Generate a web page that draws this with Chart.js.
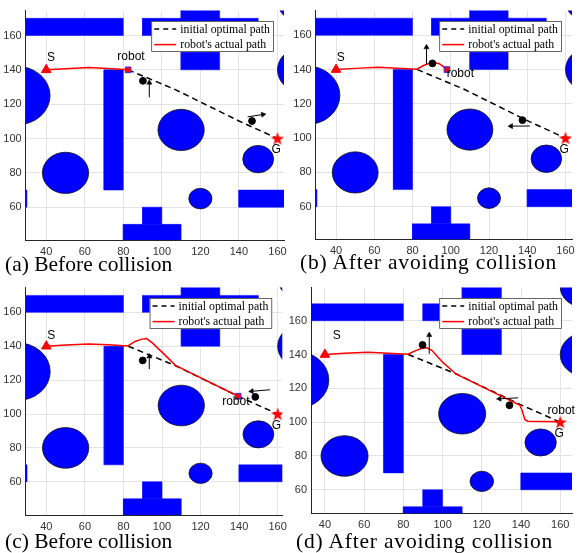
<!DOCTYPE html>
<html>
<head>
<meta charset="utf-8">
<script src="https://cdn.jsdelivr.net/npm/chart.js@4.4.0/dist/chart.umd.min.js"></script>
<style>
  body { margin: 0; background: #fff; }
  #wrap { position: relative; width: 580px; height: 553px; overflow: hidden; background: #fff; }
  canvas { position: absolute; }
  .cap { position: absolute; font-family: "Liberation Serif", "Times New Roman", serif; font-size: 21.5px; line-height: 1; color: #000; white-space: nowrap; }
  .wide { letter-spacing: 0.8px; }
</style>
</head>
<body>
<div id="wrap">
  <canvas id="chartA"></canvas>
  <canvas id="chartB"></canvas>
  <canvas id="chartC"></canvas>
  <canvas id="chartD"></canvas>
  <div class="cap" style="left:5px;top:254px">(a) Before collision</div>
  <div class="cap wide" style="left:300px;top:252px">(b) After avoiding collision</div>
  <div class="cap" style="left:5px;top:531px">(c) Before collision</div>
  <div class="cap wide" style="left:296px;top:531px">(d) After avoiding collision</div>
</div>
<script>
// tick labels
var xTicks = [40, 60, 80, 100, 120, 140, 160];
var yTicks = [60, 80, 100, 120, 140, 160];

// static obstacles: rectangles [x1, x2, y1, y2] and circles [cx, cy, r]
var rectObs = [[10, 80, 160, 170], [90, 150, 160, 170], [110, 130, 140, 185],
               [70, 80, 70, 140], [140, 175, 60, 70], [80, 110, 35, 50],
               [90, 100, 50, 60], [15, 30, 60, 70]];
var circObs = [[25, 125, 17], [50, 80, 12], [110, 105, 12], [150, 88, 8],
               [120, 65, 6], [173, 140, 13], [172, 180, 12]];

var startXY = [40, 140];
var goalXY = [160, 100];

// initial optimal path
var initX = [82.5, 107, 139.5, 160];
var initY = [140, 128.5, 110.5, 100];

// robot's actual path for each panel
var pathAX = [40, 50, 62, 72, 82.5];
var pathAY = [140, 140.7, 141.3, 140.8, 140];
var pathBX = [40, 50, 62, 72, 82.3, 86, 90.5, 94, 97.5];
var pathBY = [140, 140.7, 141.3, 140.8, 140.2, 142.5, 144.2, 143.4, 140.5];
var pathCX = [40, 50, 62, 72, 82.3, 86, 89.5, 92, 95, 100, 107, 139.5];
var pathCY = [140, 140.7, 141.3, 140.8, 140.2, 142.8, 144.2, 144.5, 142, 136.5, 128.7, 110.5];
var pathDX = [40, 50, 62, 72, 82.3, 86, 89.5, 92, 94.5, 100, 106.8, 139.5, 140.5, 142, 143.5, 160];
var pathDY = [140, 140.7, 141.3, 140.8, 140.2, 142.2, 143.7, 144, 142.5, 135.5, 128.5, 110, 107, 101.5, 100.6, 100.3];

// robot position
var robotA = [82.5, 140];
var robotB = [98, 140];
var robotC = [139.5, 110.5];

// moving obstacles
var dotsAX = [90.2, 146.8], dotsAY = [133.6, 110.2];
var dotsBX = [90.4, 137.5], dotsBY = [143.6, 110.5];
var dotsCX = [90, 148.4],   dotsCY = [131.6, 110.1];
var dotsDX = [89.8, 134.1], dotsDY = [145.7, 110];

// their velocity arrows [x0, y0, x1, y1]
var arrowsA = [[93.5, 124, 93.5, 132.5], [144.5, 112.6, 152.5, 114]];
var arrowsB = [[87.3, 143.2, 87.3, 153], [141.4, 107.1, 131.5, 107]];
var arrowsC = [[93.4, 126.5, 93.4, 134], [156, 114.3, 146.5, 113.4]];
var arrowsD = [[93.2, 140.5, 93.2, 151.5], [138.5, 114.4, 129, 113.8]];

var pts = function(xs, ys) { return xs.map(function(x, i) { return {x: x, y: ys[i]}; }); };

function starImg(size, color) {
  var c = document.createElement('canvas');
  c.width = c.height = size;
  var g = c.getContext('2d');
  g.beginPath();
  for (var i = 0; i < 10; i++) {
    var r = i % 2 ? size * 0.2 : size * 0.5;
    var a = -Math.PI / 2 + i * Math.PI / 5;
    g.lineTo(size / 2 + r * Math.cos(a), size / 2 + r * Math.sin(a) + size * 0.04);
  }
  g.closePath();
  g.fillStyle = color;
  g.fill();
  return c;
}
var star = starImg(14, '#ff0000');

// circles, labels and legend drawn with the chart scales
var mapPlugin = {
  id: 'mapPlugin',
  beforeDatasetsDraw: function(chart) {
    var ctx = chart.ctx, a = chart.chartArea, xs = chart.scales.x, ys = chart.scales.y;
    ctx.save();
    ctx.beginPath();
    ctx.rect(a.left, a.top, a.right - a.left, a.bottom - a.top);
    ctx.clip();
    circObs.forEach(function(c) {
      var cx = xs.getPixelForValue(c[0]), cy = ys.getPixelForValue(c[1]);
      var rx = Math.abs(xs.getPixelForValue(c[0] + c[2]) - cx);
      var ry = Math.abs(ys.getPixelForValue(c[1] + c[2]) - cy);
      ctx.beginPath();
      ctx.ellipse(cx, cy, rx, ry, 0, 0, Math.PI * 2);
      ctx.fillStyle = '#0000ff';
      ctx.fill();
      ctx.lineWidth = 0.8;
      ctx.strokeStyle = '#101010';
      ctx.stroke();
    });
    ctx.restore();
  },
  afterDatasetsDraw: function(chart) {
    var ctx = chart.ctx, a = chart.chartArea, xs = chart.scales.x, ys = chart.scales.y;
    var o = chart.options.plugins.mapPlugin;
    ctx.save();
    ctx.fillStyle = '#000';
    ctx.font = '12px "Liberation Sans", Arial, sans-serif';
    ctx.textAlign = 'center';
    ctx.textBaseline = 'middle';
    o.labels.forEach(function(l) {
      ctx.fillText(l[0], xs.getPixelForValue(l[1]), ys.getPixelForValue(l[2]));
    });
    // legend box
    ctx.font = '11.8px "Liberation Serif", "Times New Roman", serif';
    var t1 = 'initial optimal path', t2 = "robot's actual path";
    var w = 29 + Math.max(ctx.measureText(t1).width, ctx.measureText(t2).width) + 4;
    var h = 31;
    var lx = a.right - o.legendRight - w, ly = a.top + o.legendTop;
    ctx.fillStyle = '#fff';
    ctx.fillRect(lx, ly, w, h);
    ctx.strokeStyle = '#262626';
    ctx.lineWidth = 0.7;
    ctx.strokeRect(lx + 0.5, ly + 0.5, w - 1, h - 1);
    ctx.lineWidth = 1.5;
    ctx.strokeStyle = '#000';
    ctx.setLineDash([5, 4]);
    ctx.beginPath(); ctx.moveTo(lx + 3, ly + 8); ctx.lineTo(lx + 25, ly + 8); ctx.stroke();
    ctx.setLineDash([]);
    ctx.strokeStyle = '#ff0000';
    ctx.beginPath(); ctx.moveTo(lx + 3, ly + 23.5); ctx.lineTo(lx + 25, ly + 23.5); ctx.stroke();
    ctx.fillStyle = '#000';
    ctx.textAlign = 'left';
    ctx.fillText(t1, lx + 29, ly + 8.5);
    ctx.fillText(t2, lx + 29, ly + 24);
    ctx.restore();
  }
};

function arrowRot(ctx) {
  var d = ctx.dataset.data, xs = ctx.chart.scales.x, ys = ctx.chart.scales.y;
  var dx = xs.getPixelForValue(d[1].x) - xs.getPixelForValue(d[0].x);
  var dy = ys.getPixelForValue(d[1].y) - ys.getPixelForValue(d[0].y);
  return Math.atan2(dx, -dy) * 180 / Math.PI;
}

function buildDatasets(px, py, robot, dx, dy, arrows) {
  var ds = [];
  ds.push({ data: [{x: startXY[0], y: startXY[1]}], showLine: false, pointStyle: 'triangle',
            pointRadius: 5.5, backgroundColor: '#ff0000', borderColor: '#ff0000', order: 0 });
  ds.push({ data: [{x: goalXY[0], y: goalXY[1]}], showLine: false, pointStyle: star,
            pointRadius: 7, order: 0 });
  if (robot) {
    ds.push({ data: [{x: robot[0], y: robot[1]}], showLine: false, pointStyle: 'rect',
              pointRadius: 4, backgroundColor: '#ff0000', borderColor: '#3030ff', borderWidth: 1, order: 0 });
  }
  ds.push({ data: pts(dx, dy), showLine: false, pointStyle: 'circle', pointRadius: 3.4,
            backgroundColor: '#000', borderColor: '#000', order: 0 });
  arrows.forEach(function(ar) {
    ds.push({ data: [{x: ar[0], y: ar[1]}, {x: ar[2], y: ar[3]}], showLine: true,
              borderColor: '#000', borderWidth: 1, pointStyle: 'triangle',
              pointRadius: [0, 3], pointBackgroundColor: '#000', pointBorderColor: '#000',
              pointBorderWidth: 0.5, pointRotation: arrowRot, order: 1 });
  });
  ds.push({ data: pts(px, py), showLine: true, borderColor: '#ff0000', borderWidth: 1.5,
            pointRadius: 0, tension: 0, order: 4 });
  ds.push({ data: pts(initX, initY), showLine: true, borderColor: '#000', borderWidth: 1.5,
            borderDash: [6, 4], pointRadius: 0, tension: 0, order: 5 });
  rectObs.forEach(function(r) {
    ds.push({ data: [{x: r[0], y: r[2]}, {x: r[1], y: r[2]}, {x: r[1], y: r[3]}, {x: r[0], y: r[3]}, {x: r[0], y: r[2]}],
              showLine: true, fill: 'shape', backgroundColor: '#0000ff', borderColor: '#0000ff',
              borderWidth: 0.5, pointRadius: 0, tension: 0, order: 10 });
  });
  return ds;
}

function makePanel(p) {
  var cv = document.getElementById(p.id);
  cv.width = p.cw; cv.height = p.ch;
  cv.style.left = p.cx + 'px'; cv.style.top = p.cy + 'px';
  var yW = p.area[0] - p.cx, padTop = p.area[1] - p.cy;
  var padRight = p.cx + p.cw - p.area[2], xH = p.cy + p.ch - p.area[3];
  var tickFont = { family: '"Liberation Sans", Arial, sans-serif', size: 11 };
  new Chart(cv.getContext('2d'), {
    type: 'line',
    data: { datasets: p.datasets },
    options: {
      responsive: false,
      animation: false,
      events: [],
      layout: { padding: { top: padTop, right: padRight, left: 0, bottom: 0 } },
      plugins: {
        legend: { display: false },
        tooltip: { enabled: false },
        mapPlugin: { labels: p.labels, legendRight: 10, legendTop: 10.5 }
      },
      scales: {
        x: {
          type: 'linear', min: p.xlim[0], max: p.xlim[1],
          afterFit: function(s) { s.height = xH; },
          afterBuildTicks: function(s) { s.ticks = xTicks.map(function(v) { return {value: v}; }); },
          ticks: { font: tickFont, color: '#333', padding: 5, maxRotation: 0, autoSkip: false },
          grid: { color: '#e4e4e4', drawTicks: false },
          border: { color: '#262626', width: 1 }
        },
        y: {
          type: 'linear', min: p.ylim[0], max: p.ylim[1],
          afterFit: function(s) { s.width = yW; },
          afterBuildTicks: function(s) { s.ticks = yTicks.map(function(v) { return {value: v}; }); },
          ticks: { font: tickFont, color: '#333', padding: 4, autoSkip: false },
          grid: { color: '#e4e4e4', drawTicks: false },
          border: { color: '#262626', width: 1 }
        }
      }
    },
    plugins: [mapPlugin]
  });
}

makePanel({ id: 'chartA', cx: 0, cy: 0, cw: 292, ch: 262, area: [25.7, 7, 290, 240],
  xlim: [29.35, 163.4], ylim: [40.9, 174.5],
  labels: [['S', 42.5, 147], ['robot', 84, 147.5], ['G', 159.3, 93.4]],
  datasets: buildDatasets(pathAX, pathAY, robotA, dotsAX, dotsAY, arrowsA) });

makePanel({ id: 'chartB', cx: 292, cy: 0, cw: 288, ch: 262, area: [315.7, 6, 580, 239.3],
  xlim: [29.35, 163.4], ylim: [41, 174.4],
  labels: [['S', 42.5, 147], ['robot', 105, 137.7], ['G', 159.3, 93.4]],
  datasets: buildDatasets(pathBX, pathBY, robotB, dotsBX, dotsBY, arrowsB) });

makePanel({ id: 'chartC', cx: 0, cy: 277, cw: 292, ch: 262, area: [25.7, 282, 287.5, 515],
  xlim: [29.3, 162.4], ylim: [40.4, 174.6],
  labels: [['S', 42.5, 146.5], ['robot', 138.3, 107], ['G', 159.3, 93.4]],
  datasets: buildDatasets(pathCX, pathCY, robotC, dotsCX, dotsCY, arrowsC) });

makePanel({ id: 'chartD', cx: 280, cy: 277, cw: 300, ch: 262, area: [311, 280, 573.3, 513.3],
  xlim: [32.9, 166], ylim: [46.1, 179.6],
  labels: [['S', 46, 151], ['robot', 160.5, 107], ['G', 159.5, 93.4]],
  datasets: buildDatasets(pathDX, pathDY, null, dotsDX, dotsDY, arrowsD) });
</script>
</body>
</html>
